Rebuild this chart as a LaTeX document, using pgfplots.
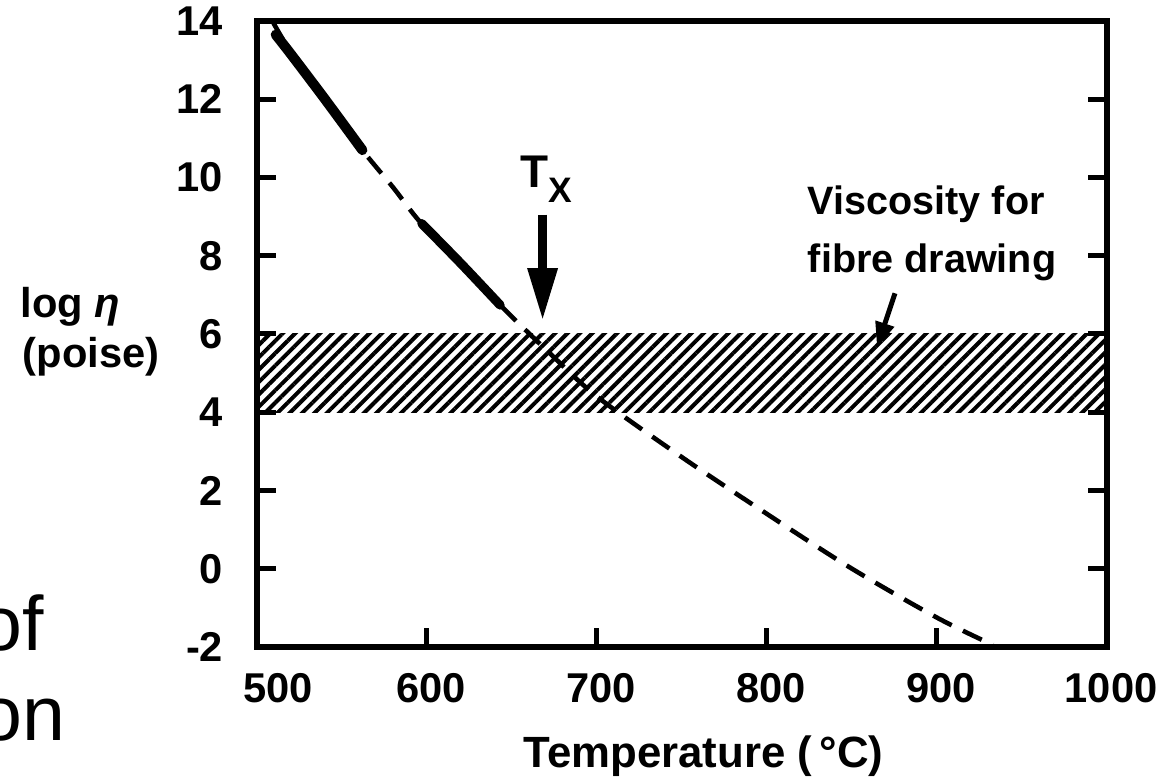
\documentclass[border=0pt]{standalone}
\usepackage{fontspec}
\setmainfont{Liberation Sans}
\usepackage{pgfplots}
\pgfplotsset{compat=1.18}
\usetikzlibrary{arrows.meta,patterns.meta}
\begin{document}
\begin{tikzpicture}
\path[use as bounding box] (-61.68pt,-31.2pt) rectangle (219.36pt,155.28pt);
\begin{axis}[
  at={(0,0)}, anchor=south west, scale only axis,
  width=204pt, height=150.24pt,
  xmin=500, xmax=1000, ymin=-2, ymax=14,
  xtick={600,700,800,900,1000}, ytick={-2,0,2,4,6,8,10,12,14},
  extra x ticks={500},
  extra x tick style={xticklabel style={xshift=4pt}},
  xtick pos=left, ytick pos=both,
  tick align=inside, major tick length=4.6pt,
  axis line style={line width=1.3pt},
  every tick/.style={line width=1.2pt, black},
  tick label style={font=\fontsize{10}{12}\selectfont\bfseries},
  /pgf/number format/assume math mode=true,
  /pgf/number format/1000 sep={},
  xticklabel style={yshift=-2.9pt, xshift=1pt},
  yticklabel style={xshift=-4.6pt},
]
\addplot[draw=none, pattern={Lines[angle=45,distance=2.1pt,line width=0.95pt]}]
  coordinates {(500,4) (1000,4) (1000,6) (500,6) (500,4)};
\addplot[black, line width=1.1pt, dash pattern=on 5pt off 3pt, smooth]
  coordinates {(509,14.0) (520,13.2) (540,12.0) (562,10.7) (580,9.75) (596,8.86)
               (620,7.8) (643,6.74) (670,5.6) (700,4.4) (750,2.85) (800,1.4)
               (850,0.0) (900,-1.25) (933,-1.95)};
\addplot[black, line width=2.4pt, line cap=round, smooth]
  coordinates {(511,13.65) (520,13.15) (540,12.0) (562,10.7)};
\addplot[black, line width=2.2pt, line cap=round, smooth]
  coordinates {(597,8.82) (620,7.8) (643,6.74)};
\draw[black, line width=2pt, -{Triangle[width=6.8pt,length=12.5pt]}]
  (axis cs:668,9.05) -- (axis cs:668,6.35);
\draw[black, line width=1.2pt, -{Triangle[width=4.5pt,length=6pt]}]
  (axis cs:875.3,7.04) -- (axis cs:864.7,5.66);
\end{axis}
\begin{scope}[x=0.24pt,y=-0.24pt,xshift=-61.68pt,yshift=155.28pt]
\node[anchor=base west, inner sep=0] at (520,188)
  {\fontsize{11}{13}\selectfont\bfseries T\raisebox{-3.6pt}{\fontsize{8.5}{10}\selectfont X}};
\node[anchor=base west, inner sep=0] at (807,215)
  {\fontsize{9.5}{11}\selectfont\bfseries Viscosity for};
\node[anchor=base west, inner sep=0] at (807,273)
  {\fontsize{9.5}{11}\selectfont\bfseries fibre drawing};
\node[anchor=base west, inner sep=0] at (20,318)
  {\fontsize{10}{12}\selectfont\bfseries log \textit{η}};
\node[anchor=base west, inner sep=0] at (22,368)
  {\fontsize{10}{12}\selectfont\bfseries (poise)};
\node[anchor=base west, inner sep=0] at (523,767)
  {\fontsize{10.5}{12}\selectfont\bfseries Temperature (\,°C)};
\node[anchor=base west, inner sep=0] at (-21,650)
  {\fontsize{18.5}{22}\selectfont of};
\node[anchor=base west, inner sep=0] at (-21,740)
  {\fontsize{18.5}{22}\selectfont on};
\end{scope}
\end{tikzpicture}
\end{document}
